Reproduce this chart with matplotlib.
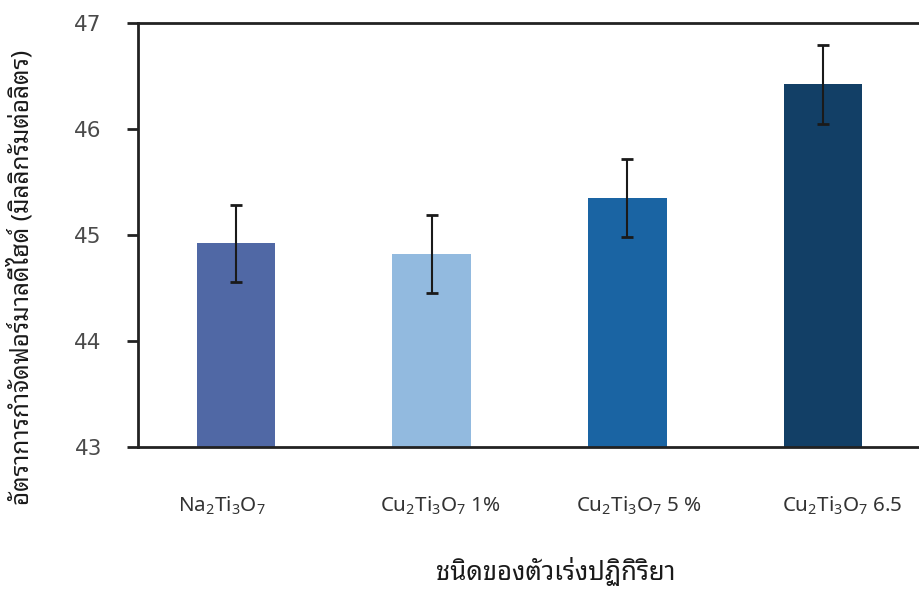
import matplotlib
matplotlib.use("Agg")
import matplotlib.pyplot as plt
from matplotlib.transforms import ScaledTranslation

# Catalyst types and formaldehyde removal rate (mg/L) with error
categories = [r"$\mathregular{Na_2Ti_3O_7}$",
              r"$\mathregular{Cu_2Ti_3O_7}$ 1%",
              r"$\mathregular{Cu_2Ti_3O_7}$ 5 %",
              r"$\mathregular{Cu_2Ti_3O_7}$ 6.5"]
removal_rate = [44.92, 44.82, 45.35, 46.42]
error = [0.36, 0.37, 0.37, 0.37]
bar_colors = ["#5068a5", "#92badf", "#1a64a3", "#123f66"]
y_ticks = [43, 44, 45, 46, 47]

ylabel = "อัตราการกำจัดฟอร์มาลดีไฮด์ (มิลลิกรัมต่อลิตร)"
xlabel = "ชนิดของตัวเร่งปฏิกิริยา"

plt.rcParams["mathtext.fontset"] = "custom"
plt.rcParams["mathtext.rm"] = "Noto Sans"
thai_fonts = ["Noto Sans Thai Looped", "DejaVu Sans"]

W, H = 919, 589
fig = plt.figure(figsize=(W / 100, H / 100), dpi=100)
ax = fig.add_axes([138 / W, (H - 447) / H, (921 - 138) / W, (447 - 23) / H])

x = list(range(len(categories)))
ax.bar(x, [v - 43 for v in removal_rate], bottom=43, width=0.4,
       color=bar_colors, zorder=2)
ax.errorbar(x, removal_rate, yerr=error, fmt="none", ecolor="#1a1a1a",
            elinewidth=1.5, capsize=4, capthick=2, zorder=3)

ax.set_xlim(-0.5, 3.5)
ax.set_ylim(43, 47)
ax.set_yticks(y_ticks)
ax.set_yticklabels([str(t) for t in y_ticks], fontsize=15.5, color="#4a4a4a",
                   family="DejaVu Sans")
ax.set_xticks(x)
ax.set_xticklabels(categories, fontsize=14.8, color="#333333",
                   family="Noto Sans")
ax.tick_params(axis="y", direction="out", length=8, width=2, color="#222222",
               pad=18)
ax.tick_params(axis="x", length=0, pad=34)

# nudge the category labels sideways (pixels)
label_shift_px = [-14, 9, 12, 19]
for lab, dx in zip(ax.get_xticklabels(), label_shift_px):
    lab.set_transform(lab.get_transform()
                      + ScaledTranslation(dx / 100, 0, fig.dpi_scale_trans))

for side in ("left", "top", "bottom"):
    ax.spines[side].set_linewidth(2)
    ax.spines[side].set_color("#222222")
ax.spines["right"].set_visible(False)

fig.text(556 / W, 1 - 571 / H, xlabel, fontsize=18.5, family=thai_fonts,
         color="#1a1a1a", ha="center", va="center")
fig.text(21 / W, 1 - 277 / H, ylabel, rotation=90, fontsize=17.5,
         family=thai_fonts, color="#1a1a1a", ha="center", va="center")

fig.savefig("out.png", dpi=100)
